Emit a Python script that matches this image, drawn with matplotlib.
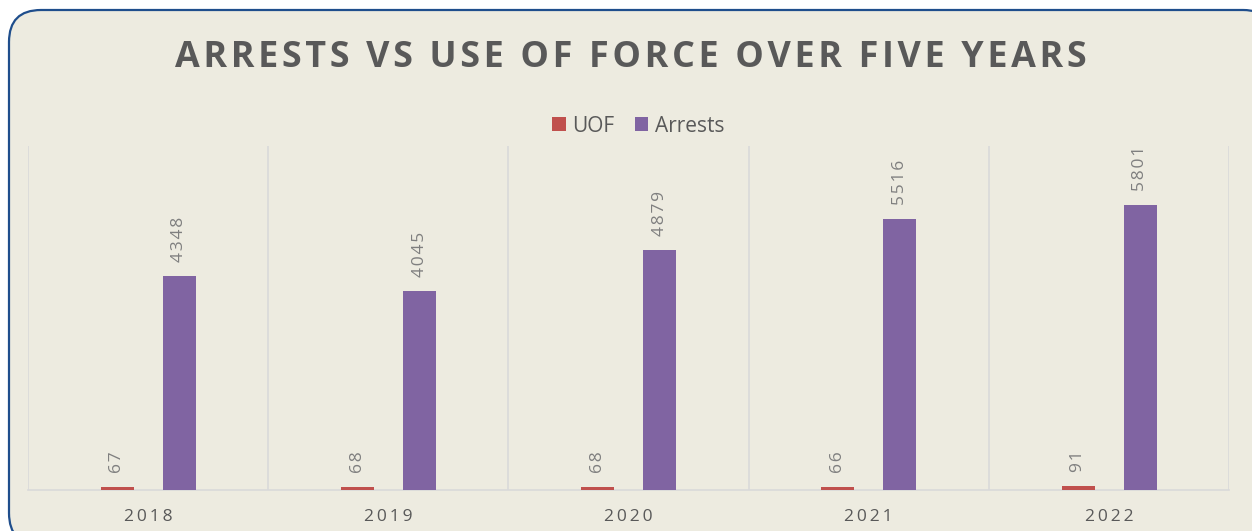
import numpy as np
import matplotlib.pyplot as plt
from matplotlib.patches import FancyBboxPatch

years = ["2018", "2019", "2020", "2021", "2022"]
uof = [67, 68, 68, 66, 91]
arrests = [4348, 4045, 4879, 5516, 5801]


def spaced(s, sp="\u2009"):
    # fake letter spacing with thin / hair spaces
    return sp.join(s)


W, H = 1252, 531
fig = plt.figure(figsize=(W / 100, H / 100), dpi=100)
fig.patch.set_facecolor("white")

# background axes in pixel units for the rounded frame
bg = fig.add_axes([0, 0, 1, 1], zorder=-1)
bg.set_xlim(0, W)
bg.set_ylim(H, 0)
bg.axis("off")
bg.add_patch(FancyBboxPatch((9, 10), 1275 - 9, 545 - 10,
                            boxstyle="round,pad=0,rounding_size=32",
                            facecolor="#edebe0", edgecolor="#1f4e8c",
                            linewidth=1.6))

ax = fig.add_axes([28 / W, (H - 490) / H, 1201 / W, 344 / H])
ax.set_facecolor("none")

x = np.arange(len(years))
bw = 0.1375
b1 = ax.bar(x - 0.128, uof, width=bw, color="#c0504d", label="UOF", zorder=3)
b2 = ax.bar(x + 0.13, arrests, width=bw, color="#8064a2", label="Arrests", zorder=3)

for bars, vals in ((b1, uof), (b2, arrests)):
    for r, v in zip(bars, vals):
        ax.annotate(spaced(str(v), "\u200a"), (r.get_x() + r.get_width() / 2, v),
                    xytext=(0, 10), textcoords="offset points",
                    rotation=90, ha="center", va="bottom",
                    fontsize=12.5, color="#7f7f7f",
                    family=["Open Sans", "DejaVu Sans"])

ax.set_xlim(-0.5, len(years) - 0.5)
ax.set_ylim(0, 7000)
ax.set_yticks([])
ax.set_xticks(x)
ax.set_xticklabels([spaced(y) for y in years], fontsize=12.5,
                   color="#595959", family="Open Sans")
ax.tick_params(axis="x", length=0, pad=14)
for b in np.arange(-0.5, len(years), 1.0):
    ax.axvline(b, color="#d9d9d9", linewidth=1.2, zorder=1)
for s in ("top", "right", "left"):
    ax.spines[s].set_visible(False)
ax.spines["bottom"].set_color("#d9d9d9")
ax.spines["bottom"].set_linewidth(1.2)

title = "ARRESTS VS USE OF FORCE OVER FIVE YEARS"
fig.text(631 / W, 1 - 58 / H,
         "\u200a \u200a".join(spaced(w, "\u200a") for w in title.split()),
         ha="center", va="center", fontsize=25.8, fontweight="bold",
         color="#595959", family=["Open Sans", "DejaVu Sans"])

fig.legend(handles=[b1, b2], labels=["UOF", "Arrests"], loc="center",
           bbox_to_anchor=(638 / W, 1 - 126 / H), ncol=2, frameon=False,
           handlelength=0.65, handleheight=0.65,
           handletextpad=0.3, columnspacing=1.0,
           prop={"family": "Open Sans", "size": 15}, labelcolor="#595959")

fig.savefig("out.png", dpi=100)
